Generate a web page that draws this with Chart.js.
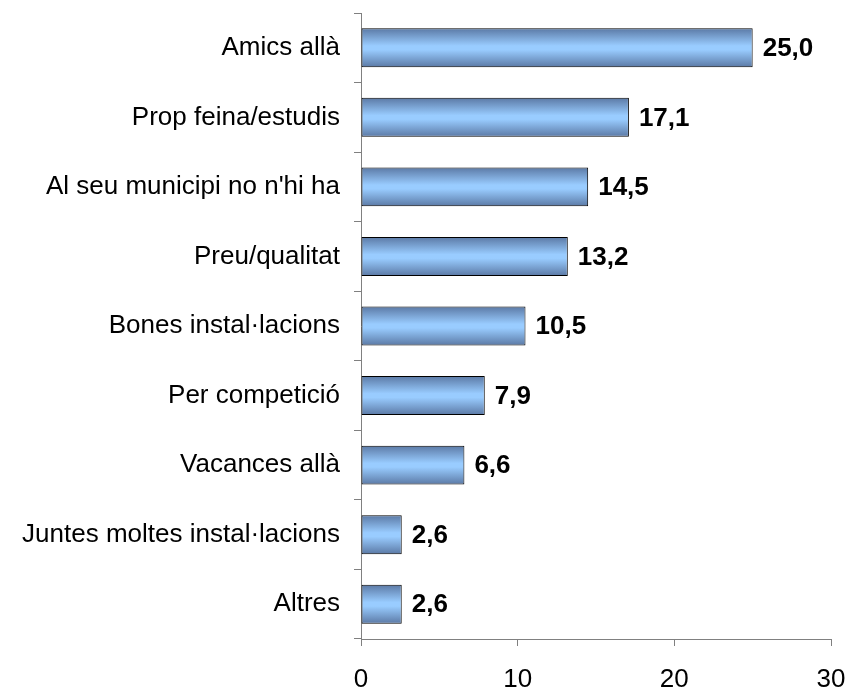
<!DOCTYPE html>
<html>
<head>
<meta charset="utf-8">
<script src="https://cdn.jsdelivr.net/npm/chart.js@4/dist/chart.umd.min.js"></script>
<style>
  html, body { margin: 0; padding: 0; background: #fff; }
  #wrap { width: 849px; height: 688px; }
</style>
</head>
<body>
<div id="wrap"><canvas id="motius"></canvas></div>
<script>
// motius d'elecció, en percentatge
const categories = [
  'Amics allà',
  'Prop feina/estudis',
  "Al seu municipi no n'hi ha",
  'Preu/qualitat',
  'Bones instal·lacions',
  'Per competició',
  'Vacances allà',
  'Juntes moltes instal·lacions',
  'Altres'
];
const values = [25.0, 17.1, 14.5, 13.2, 10.5, 7.9, 6.6, 2.6, 2.6];
const xTicks = [0, 10, 20, 30];

const FONT = 'Liberation Sans, Arial, sans-serif';
const AXIS_COLOR = '#808080';
const BAR_PCT = 0.56;

// degradat vertical per barra: fosc a les vores, clar al mig
function barFill(context) {
  const chart = context.chart;
  const y = chart.scales.y;
  if (!y || !y.height || context.dataIndex === undefined) return '#99ccff';
  const center = y.getPixelForValue(context.dataIndex);
  const h = (y.height / categories.length) * BAR_PCT;
  const g = chart.ctx.createLinearGradient(0, center - h / 2, 0, center + h / 2);
  g.addColorStop(0, '#5b79a5');
  g.addColorStop(0.45, '#99ccff');
  g.addColorStop(0.55, '#99ccff');
  g.addColorStop(1, '#5b79a5');
  return g;
}

// valor en negreta a la dreta de cada barra
const valueLabels = {
  id: 'valueLabels',
  afterDatasetsDraw(chart) {
    const { ctx } = chart;
    ctx.save();
    ctx.font = 'bold 26px ' + FONT;
    ctx.fillStyle = '#000';
    ctx.textAlign = 'left';
    ctx.textBaseline = 'middle';
    chart.getDatasetMeta(0).data.forEach((bar, i) => {
      ctx.fillText(values[i].toFixed(1).replace('.', ','), bar.x + 10, bar.y + 1);
    });
    ctx.restore();
  }
};

new Chart(document.getElementById('motius'), {
  type: 'bar',
  data: {
    labels: categories,
    datasets: [{
      data: values,
      backgroundColor: barFill,
      borderColor: '#000',
      borderWidth: 1,
      borderSkipped: false,
      categoryPercentage: 1,
      barPercentage: BAR_PCT
    }]
  },
  options: {
    indexAxis: 'y',
    responsive: true,
    maintainAspectRatio: false,
    animation: false,
    layout: { padding: { top: 13, right: 18, left: 0, bottom: 0 } },
    plugins: {
      legend: { display: false },
      tooltip: { enabled: false }
    },
    scales: {
      x: {
        min: 0,
        max: 30,
        afterBuildTicks: scale => { scale.ticks = xTicks.map(v => ({ value: v })); },
        afterFit: scale => {
          scale.height = 49;
          scale.paddingLeft = 0;
          scale.paddingRight = 0;
        },
        grid: { drawOnChartArea: false, drawTicks: true, tickLength: 7, color: AXIS_COLOR },
        border: { color: AXIS_COLOR, width: 1 },
        ticks: { color: '#000', font: { family: FONT, size: 26 }, padding: 18, maxRotation: 0 }
      },
      y: {
        afterFit: scale => {
          scale.width = 361;
          scale.paddingTop = 0;
          scale.paddingBottom = 0;
        },
        grid: { offset: true, drawOnChartArea: false, drawTicks: true, tickLength: 7, color: AXIS_COLOR },
        border: { color: AXIS_COLOR, width: 1 },
        ticks: { color: '#000', font: { family: FONT, size: 26 }, padding: 14 }
      }
    }
  },
  plugins: [valueLabels]
});
</script>
</body>
</html>
